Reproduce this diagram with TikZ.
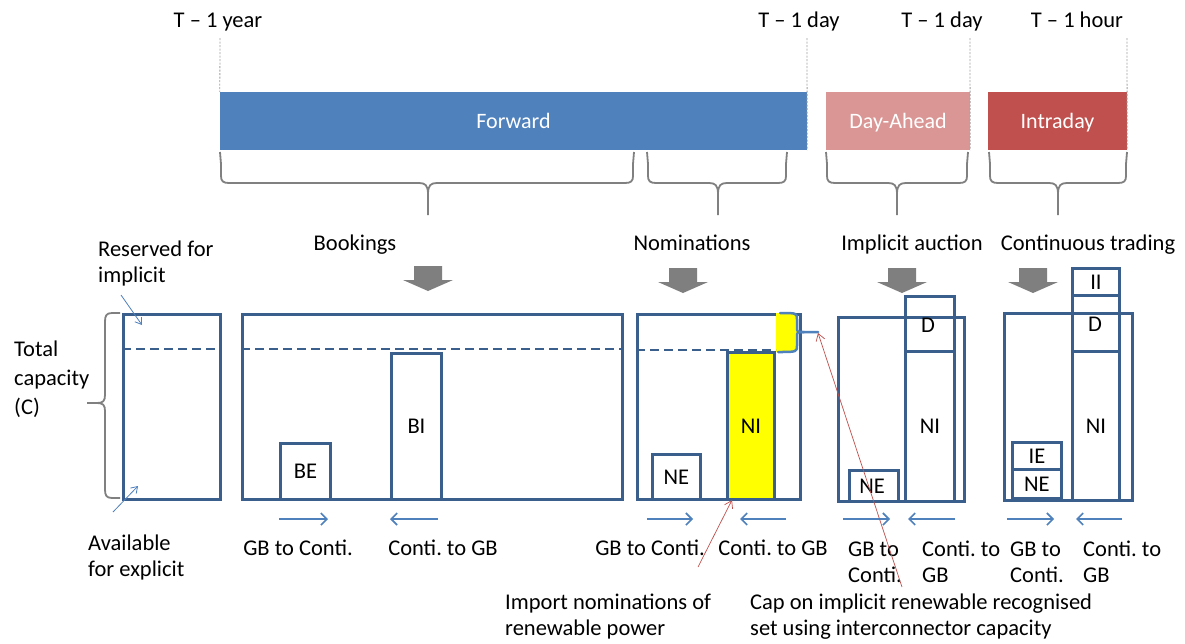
\documentclass[tikz,border=0pt]{standalone}
\usepackage{fontspec}
\setmainfont{Carlito}
\usetikzlibrary{arrows.meta}
\frenchspacing

\definecolor{boxblue}{HTML}{3A5F8C}
\definecolor{lightblue}{HTML}{4F81BD}
\definecolor{fwdblue}{HTML}{4F81BD}
\definecolor{dapink}{HTML}{D99694}
\definecolor{idred}{HTML}{C0504D}
\definecolor{bracegray}{HTML}{808080}
\definecolor{tickgray}{HTML}{A0A0A0}
\definecolor{blockgray}{HTML}{7F7F7F}
\definecolor{notered}{HTML}{C0504D}
\definecolor{nomyellow}{HTML}{FFFF00}

% downward curly brace under a timeline bar: left end, tip, right end, top
\newcommand\capbrace[4]{%
  \draw[bracegray, line width=1.8pt, line join=round]
    (#1,#4) .. controls (#1+1,#4+6) .. (#1+1,#4+12) -- (#1+1,#4+24)
    .. controls (#1+1,#4+29) and (#1+3,#4+31) .. (#1+9,#4+31) -- (#2-9,#4+31)
    .. controls (#2-3,#4+31) and (#2,#4+33) .. (#2,#4+42) -- (#2,#4+63);
  \draw[bracegray, line width=1.8pt, line join=round]
    (#3,#4) .. controls (#3-1,#4+6) .. (#3-1,#4+12) -- (#3-1,#4+24)
    .. controls (#3-1,#4+29) and (#3-3,#4+31) .. (#3-9,#4+31) -- (#2+9,#4+31)
    .. controls (#2+3,#4+31) and (#2,#4+33) .. (#2,#4+42);
}

\tikzset{
  txt/.style={font=\fontsize{22.5}{26}\selectfont, inner sep=0pt, align=left},
  one/.style={text height=20pt, text depth=5pt},
  bartxt/.style={font=\fontsize{22}{26}\selectfont, text=white, inner sep=0pt, text height=19pt, text depth=5pt},
  bar/.style={inner sep=0pt, minimum height=58pt},
  tick/.style={tickgray, line width=0.8pt, dash pattern=on 2pt off 1.5pt},
  cell/.style={draw=boxblue, line width=2.9pt, inner sep=0pt, anchor=north west},
  limit/.style={boxblue, line width=2.8pt, dash pattern=on 9pt off 5pt},
  flow/.style={lightblue, line width=1.6pt, -{Straight Barb[length=6pt,width=12pt,line width=1.6pt]}},
  note/.style={notered, line width=0.7pt, -{Straight Barb[length=7pt,width=9pt,line width=0.7pt]}},
  hint/.style={lightblue, line width=0.8pt, -{Straight Barb[length=6pt,width=8pt,line width=0.8pt]}},
  gate/.pic={\fill[blockgray] (-14,0) -- (14,0) -- (14,14) -- (25,14) -- (0,25) -- (-25,14) -- (-14,14) -- cycle;}
}

\begin{document}
\begin{tikzpicture}[x=1pt,y=-1pt]
\useasboundingbox[fill=white] (0,0) rectangle (1185,643);

% ---------- timeline ----------
\node[txt, one] (t1) at (218,20) {T -- 1 year};
\node[txt, one] (t2) at (799,20) {T -- 1 day};
\node[txt, one] (t3) at (942,20) {T -- 1 day};
\node[txt, one] (t4) at (1077,20) {T -- 1 hour};

\node[bar, fill=fwdblue, minimum width=587pt] (fwd) at (513.5,121) {};
\node[bartxt] at (fwd) {Forward};
\node[bar, fill=dapink, minimum width=144pt] (da) at (898,121) {};
\node[bartxt] at (da) {Day-Ahead};
\node[bar, fill=idred, minimum width=139pt] (idb) at (1057.5,121) {};
\node[bartxt] at (idb) {Intraday};

\draw[tick] (220,38) -- (fwd.north west);
\draw[tick] (807,38) -- (fwd.south east);
\draw[tick] (970,38) -- (da.south east);
\draw[tick] (1127,38) -- (idb.south east);

\capbrace{220}{428}{634}{152}
\capbrace{647}{718}{787}{152}
\capbrace{826}{897}{968}{152}
\capbrace{989}{1058}{1127}{152}

\node[txt, one] (book) at (355,243) {Bookings};
\node[txt, one] (nom) at (692,243) {Nominations};
\node[txt, one] (impl) at (912,243) {Implicit auction};
\node[txt, one] (cont) at (1088,243) {Continuous trading};

\pic at (428,266) {gate};
\pic at (683,268) {gate};
\pic at (902,268) {gate};
\pic at (1033,268) {gate};

% ---------- total capacity ----------
\node[cell, minimum width=97pt, minimum height=185pt] (tot) at (122,313) {};
\draw[limit] (122,349) -- (219,349);
\draw[bracegray, line width=1.8pt, line join=round]
  (120,313) -- (112,313) .. controls (106,313) and (105,316) .. (105,322) -- (105,395)
  .. controls (105,401) and (103,403) .. (97,403) -- (87,403);
\draw[bracegray, line width=1.8pt, line join=round]
  (120,498) -- (112,498) .. controls (106,498) and (105,495) .. (105,489) -- (105,411)
  .. controls (105,405) and (103,403) .. (97,403);
\node[txt, anchor=west] (res) at (98,263) {Reserved for\\implicit};
\node[txt, anchor=west, font=\fontsize{22.5}{29}\selectfont] (totc) at (14,379) {Total\\capacity\\(C)};
\node[txt, anchor=west] (avail) at (88,557) {Available\\for explicit};
\coordinate (res-a) at (121,295);
\coordinate (res-b) at (142,325);
\coordinate (av-a) at (113,512);
\coordinate (av-b) at (138,486);
\draw[hint] (res-a) -- (res-b);
\draw[hint] (av-a) -- (av-b);

% ---------- bookings ----------
\node[cell, minimum width=380pt, minimum height=185pt] (bpan) at (241,313) {};
\draw[limit] (241,349) -- (621,349);
\node[cell, minimum width=50pt, minimum height=56pt] (be) at (279,442) {};
\node[txt, one] at (be) {BE};
\node[cell, minimum width=50pt, minimum height=146pt] (bi) at (390,352) {};
\node[txt, one] at (bi) {BI};
\coordinate (bf1a) at (279,519); \coordinate (bf1b) at (328,519);
\coordinate (bf2a) at (438,519); \coordinate (bf2b) at (390,519);
\draw[flow] (bf1a) -- (bf1b);
\draw[flow] (bf2a) -- (bf2b);
\node[txt, one] at (298,548) {GB to Conti.};
\node[txt, one] at (443,548) {Conti. to GB};

% ---------- nominations ----------
\node[cell, minimum width=163pt, minimum height=185pt] (npan) at (636,313) {};
\fill[nomyellow] (776,313) -- (792,313) .. controls (797,313) .. (797,320) -- (797,327)
  .. controls (797,332) .. (803,332) .. controls (797,332) .. (797,337) -- (797,345)
  .. controls (797,352) .. (790,352) -- (776,352) -- cycle;
\draw[limit] (636,350) -- (776,350);
\node[cell, fill=nomyellow, minimum width=47pt, minimum height=147pt] (ni) at (726,351) {};
\node[txt, one] at (ni) {NI};
\node[cell, minimum width=48pt, minimum height=45pt] (ne) at (651,453) {};
\node[txt, one] at (ne) {NE};
\draw[lightblue, line width=2.5pt, line join=round, line cap=round]
  (780,313) .. controls (797,313) .. (797,320) -- (797,327)
  .. controls (797,332) .. (804,332) -- (818,332);
\draw[lightblue, line width=2.5pt, line join=round, line cap=round]
  (804,332) .. controls (797,332) .. (797,337) -- (797,345)
  .. controls (797,352) .. (778,352);
\coordinate (capend) at (818,333);
\coordinate (nf1a) at (647,519); \coordinate (nf1b) at (693,519);
\coordinate (nf2a) at (786,519); \coordinate (nf2b) at (740,519);
\draw[flow] (nf1a) -- (nf1b);
\draw[flow] (nf2a) -- (nf2b);
\node[txt, one] at (650,548) {GB to Conti.};
\node[txt, one] at (773,548) {Conti. to GB};

% ---------- implicit auction ----------
\node[cell, minimum width=126pt, minimum height=184pt] (ipan) at (837,316) {};
\node[cell, minimum width=49pt, minimum height=31pt] (ine) at (848,469) {};
\node[txt, one] at (872,486) {NE};
\node[cell, minimum width=49pt, minimum height=55pt] (idd) at (904,295) {};
\node[txt, one] at (928,325) {D};
\node[cell, minimum width=49pt, minimum height=150pt] (ini) at (904,350) {};
\node[txt, one] at (ini) {NI};
\coordinate (if1a) at (843,519); \coordinate (if1b) at (890,519);
\coordinate (if2a) at (955,519); \coordinate (if2b) at (908,519);
\draw[flow] (if1a) -- (if1b);
\draw[flow] (if2a) -- (if2b);
\node[txt, anchor=west] at (848,562) {GB to\\Conti.};
\node[txt, anchor=west] at (922,562) {Conti. to\\GB};

% ---------- continuous trading ----------
\node[cell, minimum width=128pt, minimum height=187pt] (cpan) at (1003,312) {};
\node[cell, minimum width=47pt, minimum height=27pt] (cii) at (1071,267) {};
\node[txt, one] at (cii) {II};
\node[cell, minimum width=47pt, minimum height=56pt] (cdd) at (1071,294) {};
\node[txt, one] at (1095,324) {D};
\node[cell, minimum width=47pt, minimum height=149pt] (cni) at (1071,350) {};
\node[txt, one] at (cni) {NI};
\node[cell, minimum width=49pt, minimum height=27pt] (cie) at (1011,441) {};
\node[txt, one] at (cie) {IE};
\node[cell, minimum width=49pt, minimum height=29pt] (cne) at (1011,468) {};
\node[txt, one] at (cne) {NE};
\coordinate (cf1a) at (1007,519); \coordinate (cf1b) at (1054,519);
\coordinate (cf2a) at (1122,519); \coordinate (cf2b) at (1076,519);
\draw[flow] (cf1a) -- (cf1b);
\draw[flow] (cf2a) -- (cf2b);
\node[txt, anchor=west] at (1010,562) {GB to\\Conti.};
\node[txt, anchor=west] at (1083,562) {Conti. to\\GB};

% ---------- annotations ----------
\node[txt, anchor=west] (impnote) at (505,617) {Import nominations of\\renewable power};
\node[txt, anchor=west] (capnote) at (750,617) {Cap on implicit renewable recognised\\set using interconnector capacity};
\coordinate (imp-from) at (698,567);
\coordinate (imp-to) at (732,500);
\coordinate (cap-from) at (902,587);
\draw[note] (imp-from) -- (imp-to);
\draw[note] (cap-from) -- (capend);
\end{tikzpicture}
\end{document}
